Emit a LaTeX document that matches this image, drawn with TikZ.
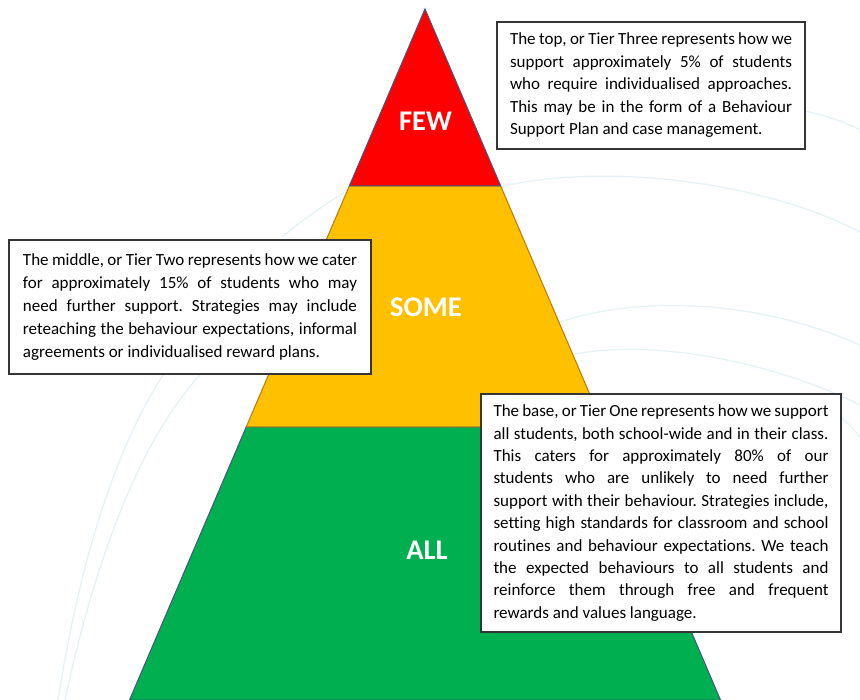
\documentclass[tikz,border=0pt]{standalone}
\usepackage{fontspec}
\setmainfont{Carlito}[Ligatures=NoCommon]
\frenchspacing
\definecolor{tred}{HTML}{FF0000}
\definecolor{tyellow}{HTML}{FFC000}
\definecolor{tgreen}{HTML}{00B050}
\definecolor{edgeblue}{HTML}{42577F}
\definecolor{edgebrown}{HTML}{B57A12}
\definecolor{arccol}{HTML}{E6F2F5}
\definecolor{boxedge}{HTML}{353535}
\newcommand\jline[1]{\hbox to \hsize{#1}}
\newcommand\lline[1]{\hbox to \hsize{#1\hfil}}
\newcommand\boxtext[3]{\vbox{\hsize=#1\fontsize{17pt}{#2}\selectfont #3}}
\tikzset{
  wm/.style={draw=arccol, line width=1.3pt},
  tier/.style={line width=1pt, line join=miter},
  tierlabel/.style={text=white, font=\fontsize{28.5pt}{30pt}\selectfont\bfseries, inner sep=0pt},
  infobox/.style={draw=boxedge, line width=1.7pt, fill=white, inner sep=0pt, text=black}
}
\begin{document}
\begin{tikzpicture}[x=1pt,y=-1pt]
\useasboundingbox (0,0) rectangle (860,700);
\clip (0,0) rectangle (860,700);
\fill[white] (0,0) rectangle (860,700);
% faint watermark arcs
\draw[wm] (65,700) .. controls (95,560) and (140,440) .. (200,375);
\draw[wm] (58,700) .. controls (80,560) and (115,450) .. (163,375);
\draw[wm] (282,237) .. controls (300,222) and (325,204) .. (345,192);
\draw[wm] (495,188) .. controls (600,162) and (760,180) .. (860,232);
\draw[wm] (800,110) .. controls (825,115) and (845,122) .. (860,130);
\draw[wm] (560,322) .. controls (640,295) and (760,300) .. (860,345);
\draw[wm] (575,354) .. controls (660,338) and (780,365) .. (860,405);
\draw[wm] (835,412) .. controls (845,420) and (853,428) .. (860,437);
% pyramid
\coordinate (apex) at (425,9);
\coordinate (rl) at (349.3,186);
\coordinate (rr) at (500.7,186);
\coordinate (yl) at (246.2,427);
\coordinate (yr) at (603.8,427);
\coordinate (gl) at (129.5,700);
\coordinate (gr) at (720.5,700);
\filldraw[tier, fill=tgreen, draw=edgeblue] (yl) -- (yr) -- (gr) -- (gl) -- cycle;
\filldraw[tier, fill=tyellow, draw=edgebrown] (rl) -- (rr) -- (yr) -- (yl) -- cycle;
\filldraw[tier, fill=tred, draw=edgeblue] (apex) -- (rr) -- (rl) -- cycle;
\node[tierlabel] (few) at (425.5,121) {FEW};
\node[tierlabel] (some) at (426,307) {SOME};
\node[tierlabel] (all) at (427,550) {ALL};
% text boxes
\node[infobox, minimum width=308pt, minimum height=127pt] (top) at (651,85.5) {\boxtext{282pt}{22.5pt}{%
\jline{The top, or Tier Three represents how we}
\jline{support approximately 5\% of students}
\jline{who require individualised approaches.}
\jline{This may be in the form of a Behaviour}
\lline{Support Plan and case management.}}};
\node[infobox, minimum width=362pt, minimum height=134pt] (middle) at (190,307) {\boxtext{334pt}{23pt}{%
\jline{The middle, or Tier Two represents how we cater}
\jline{for approximately 15\% of students who may}
\jline{need further support. Strategies may include}
\jline{reteaching the behaviour expectations, informal}
\lline{agreements or individualised reward plans.}}};
\node[infobox, minimum width=360pt, minimum height=238pt] (base) at (661,513) {\boxtext{335pt}{22.4pt}{%
\jline{The base, or Tier One represents how we support}
\jline{all students, both school-wide and in their class.}
\jline{This caters for approximately 80\% of our}
\jline{students who are unlikely to need further}
\jline{support with their behaviour. Strategies include,}
\jline{setting high standards for classroom and school}
\jline{routines and behaviour expectations. We teach}
\jline{the expected behaviours to all students and}
\jline{reinforce them through free and frequent}
\lline{rewards and values language.}}};
\end{tikzpicture}
\end{document}
